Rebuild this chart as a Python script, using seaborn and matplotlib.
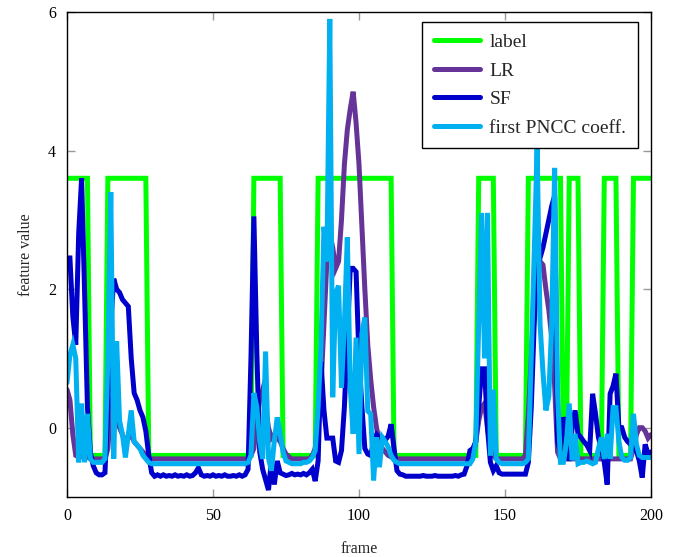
import numpy as np
import pandas as pd
import matplotlib
matplotlib.use("Agg")
import matplotlib.pyplot as plt
import seaborn as sns

# ---------------- data ----------------
frames = list(range(0, 201))

H, Lo = 3.6, -0.4
label = [
    H, H, H, H, H, H, H, H, Lo, Lo,
    Lo, Lo, Lo, Lo, H, H, H, H, H, H,
    H, H, H, H, H, H, H, H, Lo, Lo,
    Lo, Lo, Lo, Lo, Lo, Lo, Lo, Lo, Lo, Lo,
    Lo, Lo, Lo, Lo, Lo, Lo, Lo, Lo, Lo, Lo,
    Lo, Lo, Lo, Lo, Lo, Lo, Lo, Lo, Lo, Lo,
    Lo, Lo, Lo, Lo, H, H, H, H, H, H,
    H, H, H, H, Lo, Lo, Lo, Lo, Lo, Lo,
    Lo, Lo, Lo, Lo, Lo, Lo, H, H, H, H,
    H, H, H, H, H, H, H, H, H, H,
    H, H, H, H, H, H, H, H, H, H,
    H, H, Lo, Lo, Lo, Lo, Lo, Lo, Lo, Lo,
    Lo, Lo, Lo, Lo, Lo, Lo, Lo, Lo, Lo, Lo,
    Lo, Lo, Lo, Lo, Lo, Lo, Lo, Lo, Lo, Lo,
    Lo, H, H, H, H, H, H, Lo, Lo, Lo,
    Lo, Lo, Lo, Lo, Lo, Lo, Lo, Lo, H, H,
    H, H, H, H, H, H, H, H, H, H,
    Lo, Lo, H, H, H, H, Lo, Lo, Lo, Lo,
    Lo, Lo, Lo, Lo, H, H, H, H, H, Lo,
    Lo, Lo, Lo, Lo, H, H, H, H, H, H,
    H,
]

lr = [
    0.55, 0.4, -0.1, -0.4, -0.42, -0.42, -0.4, -0.42, -0.45, -0.45,
    -0.45, -0.45, -0.45, -0.45, -0.3, 0.3, 0.5, 0.2, 0.0, -0.1,
    -0.2, -0.15, -0.1, -0.2, -0.25, -0.3, -0.35, -0.4, -0.45, -0.45,
    -0.45, -0.45, -0.45, -0.45, -0.45, -0.45, -0.45, -0.45, -0.45, -0.45,
    -0.45, -0.45, -0.45, -0.45, -0.45, -0.45, -0.45, -0.45, -0.45, -0.45,
    -0.45, -0.45, -0.45, -0.45, -0.45, -0.45, -0.45, -0.45, -0.45, -0.45,
    -0.45, -0.45, -0.45, -0.4, -0.3, 0.1, 0.4, 0.55, 0.3, 0.0,
    -0.15, -0.1, -0.15, -0.2, -0.3, -0.38, -0.42, -0.45, -0.45, -0.45,
    -0.45, -0.45, -0.45, -0.45, -0.4, -0.3, 0.1, 0.6, 1.5, 2.4,
    2.8, 2.6, 2.3, 2.4, 3.0, 3.8, 4.3, 4.6, 4.85, 4.4,
    3.8, 2.9, 2.0, 1.2, 0.7, 0.3, 0.0, -0.2, -0.3, -0.35,
    -0.4, -0.42, -0.45, -0.45, -0.45, -0.45, -0.45, -0.45, -0.45, -0.45,
    -0.45, -0.45, -0.45, -0.45, -0.45, -0.45, -0.45, -0.45, -0.45, -0.45,
    -0.45, -0.45, -0.45, -0.45, -0.45, -0.45, -0.45, -0.45, -0.45, -0.4,
    -0.2, 0.1, 0.3, 0.35, 0.0, -0.3, -0.4, -0.45, -0.45, -0.45,
    -0.45, -0.45, -0.45, -0.45, -0.45, -0.45, -0.45, -0.4, 0.2, 1.0,
    1.8, 2.3, 2.4, 2.35, 2.0, 1.7, 1.3, 0.6, -0.35, -0.45,
    -0.45, -0.45, -0.45, -0.45, -0.45, -0.45, -0.45, -0.45, -0.45, -0.45,
    -0.45, -0.45, -0.45, -0.45, -0.45, -0.45, -0.45, -0.45, -0.45, -0.45,
    -0.45, -0.45, -0.45, -0.45, -0.3, -0.1, 0.0, 0.0, -0.05, -0.15,
    -0.1,
]

sf = [
    2.45, 2.45, 1.6, 1.2, 2.8, 3.6, 2.0, 0.3, -0.35, -0.55,
    -0.65, -0.68, -0.68, -0.65, 0.3, 1.5, 2.15, 2.0, 1.95, 1.85,
    1.8, 1.75, 1.0, 0.5, 0.4, 0.25, 0.15, -0.05, -0.4, -0.65,
    -0.7, -0.68, -0.7, -0.68, -0.7, -0.69, -0.7, -0.68, -0.7, -0.69,
    -0.7, -0.68, -0.7, -0.69, -0.65, -0.58, -0.68, -0.7, -0.69, -0.7,
    -0.68, -0.7, -0.69, -0.7, -0.68, -0.7, -0.7, -0.69, -0.7, -0.68,
    -0.7, -0.68, -0.6, 1.0, 3.05, 1.1, -0.35, -0.6, -0.75, -0.9,
    -0.48, -0.82, -0.48, -0.65, -0.67, -0.69, -0.68, -0.66, -0.68, -0.67,
    -0.68, -0.66, -0.68, -0.65, -0.6, -0.77, -0.48, 0.95, 0.25, -0.15,
    -0.15, -0.15, -0.48, -0.5, -0.33, 0.3, 1.3, 2.3, 2.3, 2.25,
    1.0, 0.3, -0.3, -0.38, -0.4, -0.2, -0.1, -0.15, -0.15, -0.18,
    -0.12, 0.05, -0.3, -0.62, -0.67, -0.68, -0.7, -0.7, -0.7, -0.7,
    -0.7, -0.7, -0.69, -0.7, -0.7, -0.7, -0.69, -0.7, -0.7, -0.7,
    -0.7, -0.7, -0.7, -0.69, -0.7, -0.68, -0.67, -0.55, -0.33, -0.3,
    -0.2, 0.3, 0.85, 0.85, 0.0, -0.5, -0.62, -0.55, -0.65, -0.67,
    -0.67, -0.67, -0.67, -0.67, -0.67, -0.67, -0.67, -0.67, -0.5, 0.3,
    1.5, 2.3, 2.45, 2.6, 2.8, 3.0, 3.2, 3.35, -0.2, -0.35,
    0.15, 0.0, -0.48, 0.0, 0.25, -0.09, -0.14, -0.2, -0.25, -0.33,
    0.49, 0.2, -0.14, -0.3, -0.5, -0.82, 0.49, 0.6, 0.78, 0.0,
    0.0, -0.14, -0.2, -0.24, -0.3, -0.33, -0.48, -0.72, -0.24, -0.38,
    -0.35,
]

pncc = [
    0.65, 1.05, 1.2, 1.0, -0.5, 0.35, -0.5, 0.2, -0.45, -0.5,
    -0.5, -0.5, -0.5, -0.45, 1.0, 3.4, -0.45, 1.25, 0.1, -0.1,
    -0.43, -0.1, 0.25, -0.2, -0.25, -0.3, -0.4, -0.45, -0.5, -0.52,
    -0.52, -0.52, -0.52, -0.52, -0.52, -0.52, -0.52, -0.52, -0.52, -0.52,
    -0.52, -0.52, -0.52, -0.52, -0.52, -0.52, -0.52, -0.52, -0.52, -0.52,
    -0.52, -0.52, -0.52, -0.52, -0.52, -0.52, -0.52, -0.52, -0.52, -0.52,
    -0.52, -0.52, -0.5, -0.4, 0.5, 0.3, -0.2, -0.45, 1.1, -0.44,
    -0.62, -0.19, 0.15, -0.09, -0.35, -0.48, -0.5, -0.52, -0.52, -0.52,
    -0.52, -0.5, -0.5, -0.48, -0.43, -0.33, 0.3, 1.2, 2.9, 2.4,
    5.9, 0.44, 1.94, 2.05, 0.58, 1.5, 2.75, 0.58, -0.09, 1.3,
    -0.38, 1.36, 1.59, 0.24, 0.2, -0.76, -0.14, -0.57, -0.14, -0.2,
    -0.28, -0.4, -0.47, -0.5, -0.52, -0.52, -0.52, -0.52, -0.52, -0.52,
    -0.52, -0.52, -0.52, -0.52, -0.52, -0.52, -0.52, -0.52, -0.52, -0.52,
    -0.52, -0.52, -0.52, -0.52, -0.52, -0.52, -0.52, -0.52, -0.52, -0.45,
    -0.2, 1.5, 3.1, 1.0, 3.1, -0.4, 0.55, -0.45, -0.5, -0.52,
    -0.52, -0.52, -0.52, -0.52, -0.52, -0.52, -0.52, -0.5, -0.45, 1.0,
    2.5, 4.05, 1.5, 0.8, 0.25, 0.45, 1.5, 3.75, 0.5, -0.5,
    -0.5, -0.24, 0.35, -0.47, -0.09, -0.52, -0.5, -0.5, -0.48, -0.5,
    -0.52, -0.5, -0.3, -0.14, -0.45, -0.09, -0.45, 0.29, 0.29, -0.2,
    -0.43, -0.47, -0.47, -0.43, 0.2, -0.24, -0.4, -0.43, -0.43, -0.43,
    -0.43,
]

series_names = ["label", "LR", "SF", "first PNCC coeff."]
series_values = [label, lr, sf, pncc]
x_ticks = [0, 50, 100, 150, 200]
y_ticks = [0, 2, 4, 6]

# ---------------- style ----------------
sns.set_theme(style="white")
plt.rcParams["font.family"] = ["Liberation Serif", "DejaVu Serif"]
plt.rcParams["mathtext.fontset"] = "stix"

colors = ["#00FF00", "#663399", "#0000CC", "#00B0F0"]

fig = plt.figure(figsize=(6.83, 5.57), dpi=100)
ax = fig.add_axes([67 / 683, 1 - 497 / 557, (651 - 67) / 683, (497 - 12) / 557])

for name, vals, col in zip(series_names, series_values, colors):
    df = pd.DataFrame({"frame": frames, "value": vals})
    sns.lineplot(data=df, x="frame", y="value", ax=ax, color=col,
                 linewidth=3.6, label=name, solid_joinstyle="miter",
                 estimator=None, sort=False)

ax.set_xlim(0, 200)
ax.set_ylim(-1, 6)
ax.set_xticks(x_ticks)
ax.set_yticks(y_ticks)
ax.set_xticklabels([str(t) for t in x_ticks])
ax.set_yticklabels([str(t) for t in y_ticks])
ax.tick_params(axis="both", direction="in", length=6, width=1,
               color="#999999", labelsize=11.5, labelcolor="black",
               top=True, right=True, bottom=True, left=True, pad=8)
for sp in ax.spines.values():
    sp.set_color("black")
    sp.set_linewidth(1.0)

ax.set_xlabel("frame", fontsize=11.5, labelpad=12)
ax.set_ylabel("feature value", fontsize=11.5, labelpad=10)

leg = ax.legend(loc="upper right", bbox_to_anchor=(0.9777, 0.9794),
                fontsize=14, frameon=True, fancybox=False,
                edgecolor="black", framealpha=1, handlelength=2.4,
                labelspacing=0.56, borderaxespad=0.0, borderpad=0.6,
                handletextpad=0.46)
leg.get_frame().set_linewidth(1.0)
for h in leg.get_lines():
    h.set_linewidth(3.6)

fig.savefig("out.png", dpi=100)
